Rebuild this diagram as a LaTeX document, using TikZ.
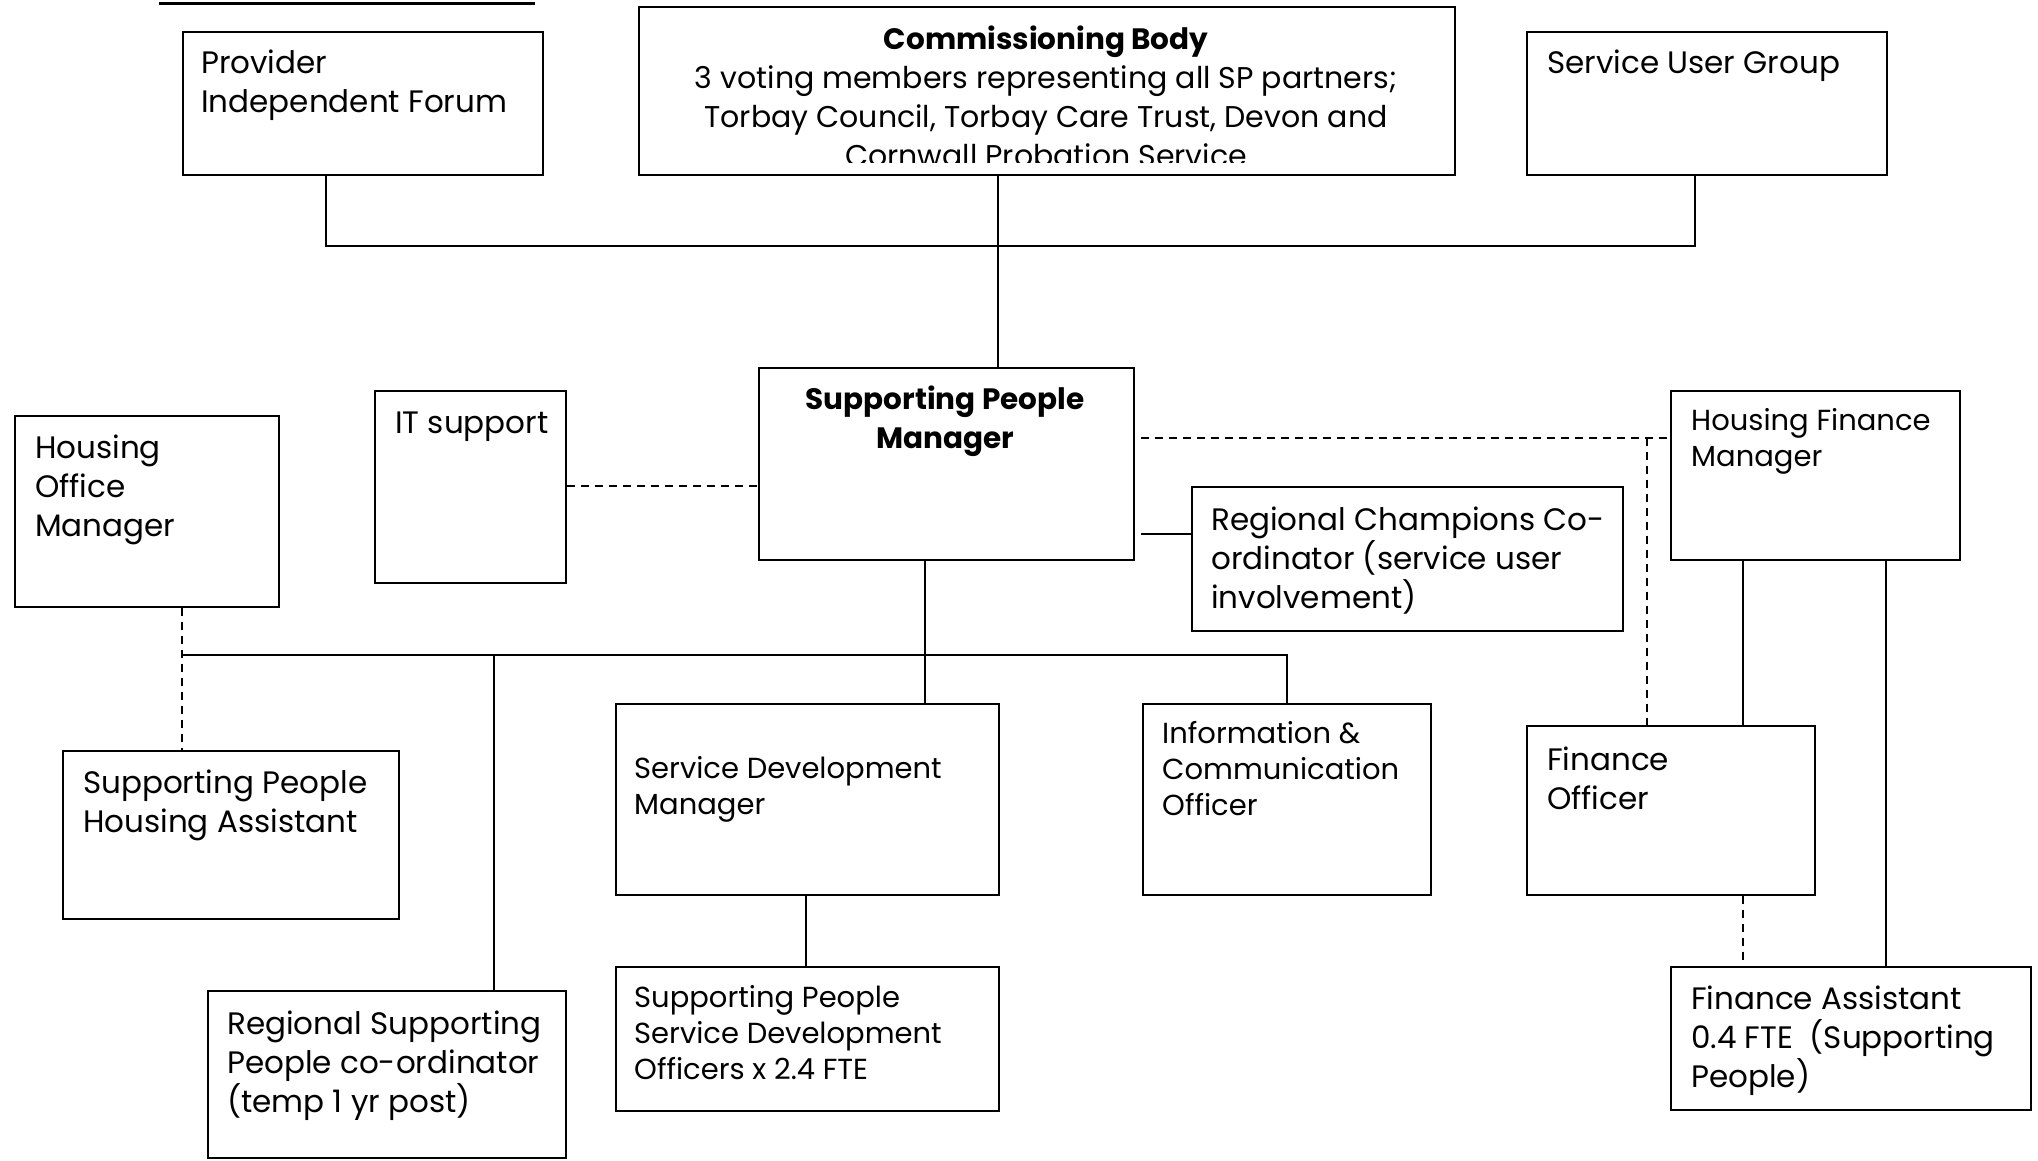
\documentclass[tikz,border=0pt]{standalone}
\usepackage{fontspec}
\setmainfont{Poppins}
\usetikzlibrary{calc}
\newcommand{\lgfont}{\fontsize{31}{39}\selectfont}
\newcommand{\bdfont}{\fontsize{29.5}{39}\selectfont\bfseries}
\newcommand{\smfont}{\fontsize{29}{36}\selectfont}
\begin{document}
\begin{tikzpicture}[x=1pt,y=-1pt,
  box/.style={draw, line width=2pt, inner sep=0pt, anchor=north west},
  conn/.style={line width=1.4pt},
  dconn/.style={line width=1.4pt, dash pattern=on 8pt off 6pt},
  txt/.style={font=\lgfont, align=left, inner sep=0pt, anchor=base west},
  stxt/.style={font=\smfont, align=left, inner sep=0pt, anchor=base west}]
\useasboundingbox (0,0) rectangle (2038,1160);
% title underline (title text cut off)
\draw[line width=3pt] (159,3) -- (535,3);
% boxes
\node[box, minimum width=360pt, minimum height=143pt] (prov) at (182,31) {};
\node[box, minimum width=816pt, minimum height=168pt] (comm) at (638,6) {};
\node[box, minimum width=360pt, minimum height=143pt] (sug) at (1526,31) {};
\node[box, minimum width=375pt, minimum height=192pt] (spm) at (758,367) {};
\node[box, minimum width=191pt, minimum height=192pt] (it) at (374,390) {};
\node[box, minimum width=264pt, minimum height=191pt] (hom) at (14,415) {};
\node[box, minimum width=431pt, minimum height=144pt] (rc) at (1191,486) {};
\node[box, minimum width=289pt, minimum height=169pt] (hfm) at (1670,390) {};
\node[box, minimum width=288pt, minimum height=169pt] (fo) at (1526,725) {};
\node[box, minimum width=360pt, minimum height=143pt] (fa) at (1670,966) {};
\node[box, minimum width=336pt, minimum height=168pt] (spha) at (62,750) {};
\node[box, minimum width=358pt, minimum height=167pt] (rspc) at (207,990) {};
\node[box, minimum width=383pt, minimum height=191pt] (sdm) at (615,703) {};
\node[box, minimum width=383pt, minimum height=144pt] (spsdo) at (615,966) {};
\node[box, minimum width=288pt, minimum height=191pt] (info) at (1142,703) {};
% texts (anchor = baseline of last line)
\node[txt] (tprov) at (201,112) {Provider\\Independent Forum};
\node[txt] (tsug) at (1547,73) {Service User Group};
\begin{scope}
\clip (640,8) rectangle (1452,162);
\node[font=\fontsize{30}{39}\selectfont, align=center, inner sep=0pt, anchor=base] (tcomm) at (1046,166)
  {{\bdfont Commissioning Body}\\3 voting members representing all SP partners;\\Torbay Council, Torbay Care Trust, Devon and\\Cornwall Probation Service};
\end{scope}
\node[font=\bdfont, align=center, inner sep=0pt, anchor=base] (tspm) at (945,448) {Supporting People\\Manager};
\node[txt] (tit) at (395,433) {IT support};
\node[txt] (thom) at (35,536) {Housing\\Office\\Manager};
\node[txt] (trc) at (1211,608) {Regional Champions Co-\\ordinator (service user\\involvement)};
\node[stxt] (thfm) at (1691,466) {Housing Finance\\Manager};
\node[stxt] (tsdm) at (634,814) {Service Development\\Manager};
\node[stxt] (tinfo) at (1162,815) {Information \&\\Communication\\Officer};
\node[txt] (tfo) at (1547,809) {Finance\\Officer};
\node[txt] (tspha) at (83,832) {Supporting People\\Housing Assistant};
\node[txt] (trspc) at (227,1112) {Regional Supporting\\People co-ordinator\\(temp 1 yr post)};
\node[stxt] (tspsdo) at (634,1079) {Supporting People\\Service Development\\Officers x 2.4 FTE};
\node[txt] (tfa) at (1691,1087) {Finance Assistant\\0.4 FTE~~(Supporting\\People)};
% connectors
\coordinate (topl) at (326,246);
\coordinate (topr) at (1695,246);
\coordinate (cx) at (998,246);
\draw[conn] (prov.south -| topl) -- (topl) -- (topr) -- (sug.south -| topr);
\draw[conn] (comm.south -| cx) -- (spm.north -| cx);
\coordinate (itl) at (565,486);
\draw[dconn] (it.east |- itl) -- (spm.west |- itl);
\coordinate (rcl) at (1141,534);
\draw[conn] (rcl) -- (rc.west |- rcl);
\coordinate (hfl) at (1141,438);
\coordinate (hfb) at (1647,438);
\draw[dconn] (hfl) -- (hfm.west |- hfl);
\draw[dconn] (hfb) -- (fo.north -| hfb);
\coordinate (fox) at (1743,600);
\draw[conn] (hfm.south -| fox) -- (fo.north -| fox);
\draw[dconn] (fo.south -| fox) -- (fa.north -| fox);
\coordinate (fax) at (1886,600);
\draw[conn] (hfm.south -| fax) -- (fa.north -| fax);
\coordinate (busl) at (182,655);
\coordinate (busr) at (1287,655);
\coordinate (busm) at (925,655);
\coordinate (busc) at (494,655);
\draw[conn] (spm.south -| busm) -- (sdm.north -| busm);
\draw[conn] (busl) -- (busr) -- (info.north -| busr);
\draw[conn] (busc) -- (rspc.north -| busc);
\draw[dconn] (hom.south -| busl) -- (spha.north -| busl);
\coordinate (sdx) at (806,900);
\draw[conn] (sdm.south -| sdx) -- (spsdo.north -| sdx);
\end{tikzpicture}
\end{document}
